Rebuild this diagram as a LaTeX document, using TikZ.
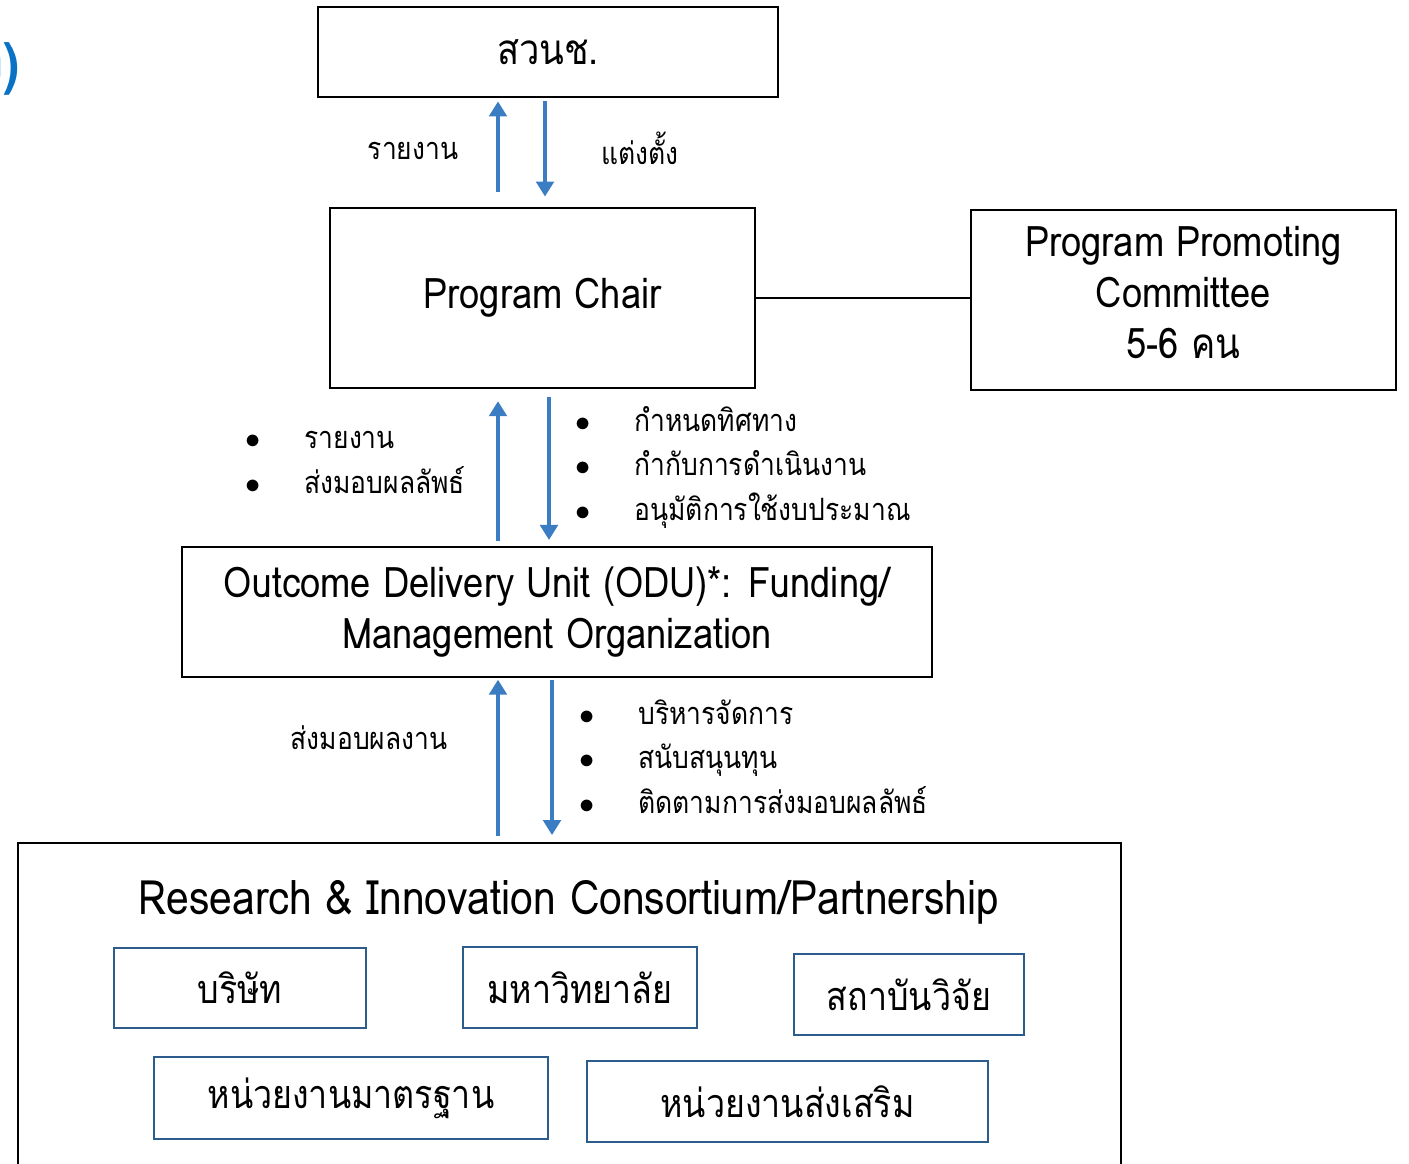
\documentclass[tikz,border=0pt]{standalone}
\usepackage{fontspec}
\setmainfont[Script=Thai, FakeStretch=0.86]{Loma}
\usepackage{tikz}
\usetikzlibrary{arrows.meta}
\definecolor{arrblue}{HTML}{3A7DC2}
\definecolor{unitblue}{HTML}{2C5C8C}
\definecolor{titleblue}{HTML}{0A72C4}

\begin{document}
\begin{tikzpicture}[x=0.02cm, y=-0.02cm,
        box/.style={draw, line width=1.1pt, inner sep=0pt, align=center, font=\fontsize{24}{29}\selectfont},
        unit/.style={draw=unitblue, line width=1.1pt, inner sep=0pt, font=\fontsize{22.5}{27}\selectfont},
        arr/.style={arrblue, line width=1.9pt, -{Triangle[length=8.5pt,width=10pt]}},
        lbl/.style={font=\fontsize{17.5}{25.5}\selectfont}]
        \useasboundingbox (0,0) rectangle (1409,1163);
        % clipped heading at the left edge
        \node[anchor=east, text=titleblue, font=\bfseries\fontsize{32}{36}\selectfont] (draft) at (26,68) {(ร่าง)};
        % main boxes
        \node[box, minimum width=9.2cm, minimum height=1.8cm] (top) at (548,52) {สวนช.};
        \node[box, minimum width=8.5cm, minimum height=3.6cm] (chair) at (542.5,298) {Program Chair};
        \node[box, minimum width=8.5cm, minimum height=3.6cm] (ppc) at (1183.5,300) {Program Promoting\\Committee\\5-6 คน\\[-20pt]};
        \node[box, minimum width=15cm, minimum height=2.6cm] (odu) at (557,612) {Outcome Delivery Unit (ODU)*: Funding/\\Management Organization};
        \node[box, minimum width=22.06cm, minimum height=7.14cm] (consort) at (569.5,1021.5) {};
        \node[font=\fontsize{27}{32}\selectfont] (ctitle) at (569,902) {Research \& Innovation Consortium/Partnership};
        % members
        \node[unit, minimum width=5.04cm, minimum height=1.6cm] (firm) at (240,988) {บริษัท};
        \node[unit, minimum width=4.68cm, minimum height=1.62cm] (uni) at (580,987.5) {มหาวิทยาลัย};
        \node[unit, minimum width=4.6cm, minimum height=1.62cm] (inst) at (909,994.5) {สถาบันวิจัย};
        \node[unit, minimum width=7.88cm, minimum height=1.64cm] (std) at (351,1098) {หน่วยงานมาตรฐาน};
        \node[unit, minimum width=8.02cm, minimum height=1.62cm] (promo) at (787.5,1101.5) {หน่วยงานส่งเสริม};
        % connectors
        \draw[line width=1.1pt] (chair.east) -- (chair.east -| ppc.west);
        \draw[arr, shorten <=8.5pt, shorten >=2pt] (498,0 |- chair.north) -- (498,0 |- top.south);
        \draw[arr, shorten <=2pt, shorten >=6pt] (545,0 |- top.south) -- (545,0 |- chair.north);
        \draw[arr, shorten <=3pt, shorten >=7pt] (498,0 |- odu.north) -- (498,0 |- chair.south);
        \draw[arr, shorten <=4.5pt, shorten >=3.5pt] (549,0 |- chair.south) -- (549,0 |- odu.north);
        \draw[arr, shorten <=3.5pt, shorten >=1pt] (498,0 |- consort.north) -- (498,0 |- odu.south);
        \draw[arr, shorten <=1pt, shorten >=4pt] (552,0 |- odu.south) -- (552,0 |- consort.north);
        % labels
        \node[lbl] (rep) at (413,151) {รายงาน};
        \node[lbl] (appoint) at (640,148) {แต่งตั้ง};
        \node[lbl, anchor=west, inner sep=0pt] (upA) at (245,462) {\begin{tabular}{@{}l@{\hspace{25pt}}l@{}}$\bullet$ & รายงาน\\ $\bullet$ & ส่งมอบผลลัพธ์\end{tabular}};
        \node[lbl, anchor=west, inner sep=0pt] (downA) at (575,467) {\begin{tabular}{@{}l@{\hspace{25pt}}l@{}}$\bullet$ & กำหนดทิศทาง\\ $\bullet$ & กำกับการดำเนินงาน\\ $\bullet$ & อนุมัติการใช้งบประมาณ\end{tabular}};
        \node[lbl] (deliver) at (369,738) {ส่งมอบผลงาน};
        \node[lbl, anchor=west, inner sep=0pt] (downB) at (579,760) {\begin{tabular}{@{}l@{\hspace{25pt}}l@{}}$\bullet$ & บริหารจัดการ\\ $\bullet$ & สนับสนุนทุน\\ $\bullet$ & ติดตามการส่งมอบผลลัพธ์\end{tabular}};
\end{tikzpicture}
\end{document}
